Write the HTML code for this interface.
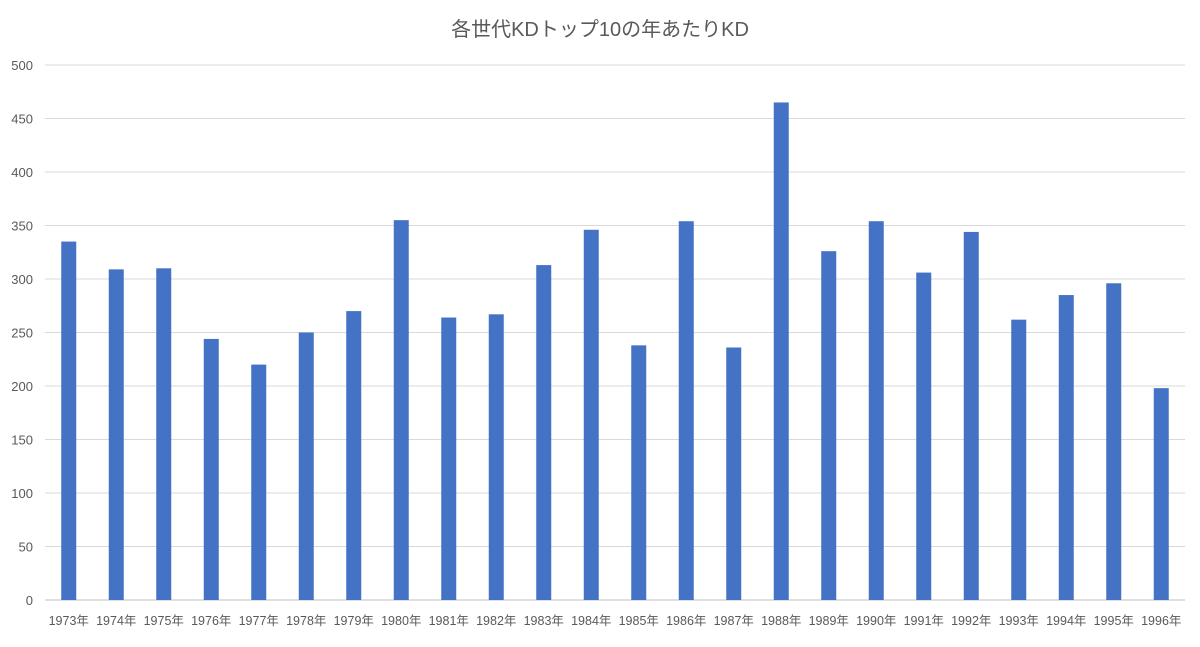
<!DOCTYPE html>
<html><head><meta charset="utf-8"><style>
body{margin:0;background:#fff;}
svg text{font-family:"Liberation Sans","Noto Sans CJK JP",sans-serif;fill:#595959;}
</style></head><body>
<svg id="c" width="1200" height="642">
<text x="600" y="36" text-anchor="middle" font-size="20">各世代KDトップ10の年あたりKD</text>
<g id="grid"></g><g id="bars"></g><g id="xl"></g><g id="yl"></g>
</svg>
<script>
const categories=["1973年","1974年","1975年","1976年","1977年","1978年","1979年","1980年","1981年","1982年","1983年","1984年","1985年","1986年","1987年","1988年","1989年","1990年","1991年","1992年","1993年","1994年","1995年","1996年"];
const values=[335,309,310,244,220,250,270,355,264,267,313,346,238,354,236,465,326,354,306,344,262,285,296,198];
const yTicks=[0,50,100,150,200,250,300,350,400,450,500];
const NS="http://www.w3.org/2000/svg";
const x0=45,x1=1185,yBase=600,yTop=65,yMax=500;
const bw=(x1-x0)/categories.length;
const y=v=>yBase-(v/yMax)*(yBase-yTop);
const xc=i=>x0+bw*(i+0.5);
function mk(t,a,p){const e=document.createElementNS(NS,t);for(const k in a)e.setAttribute(k,a[k]);p.appendChild(e);return e;}
const g=document.getElementById('grid'),yl=document.getElementById('yl'),b=document.getElementById('bars'),xl=document.getElementById('xl');
yTicks.forEach(t=>{
 const l=mk('line',{x1:x0,x2:x1,y1:y(t),y2:y(t),stroke:t===0?'#bfbfbf':'#d9d9d9','stroke-width':1},g);
 
 
 const tx=mk('text',{x:33,y:y(t)+5,'text-anchor':'end','font-size':13},yl);
 tx.textContent=t;
 
 
});
categories.forEach((c,i)=>{
 const r=mk('rect',{x:xc(i)-7.5,y:y(values[i]),width:15,height:yBase-y(values[i]),fill:'#4472c4'},b);
 
 
 const t=mk('text',{x:xc(i),y:625,'text-anchor':'middle','font-size':12.5},xl);
 t.textContent=c;
 
 
});
</script>
</body></html>
